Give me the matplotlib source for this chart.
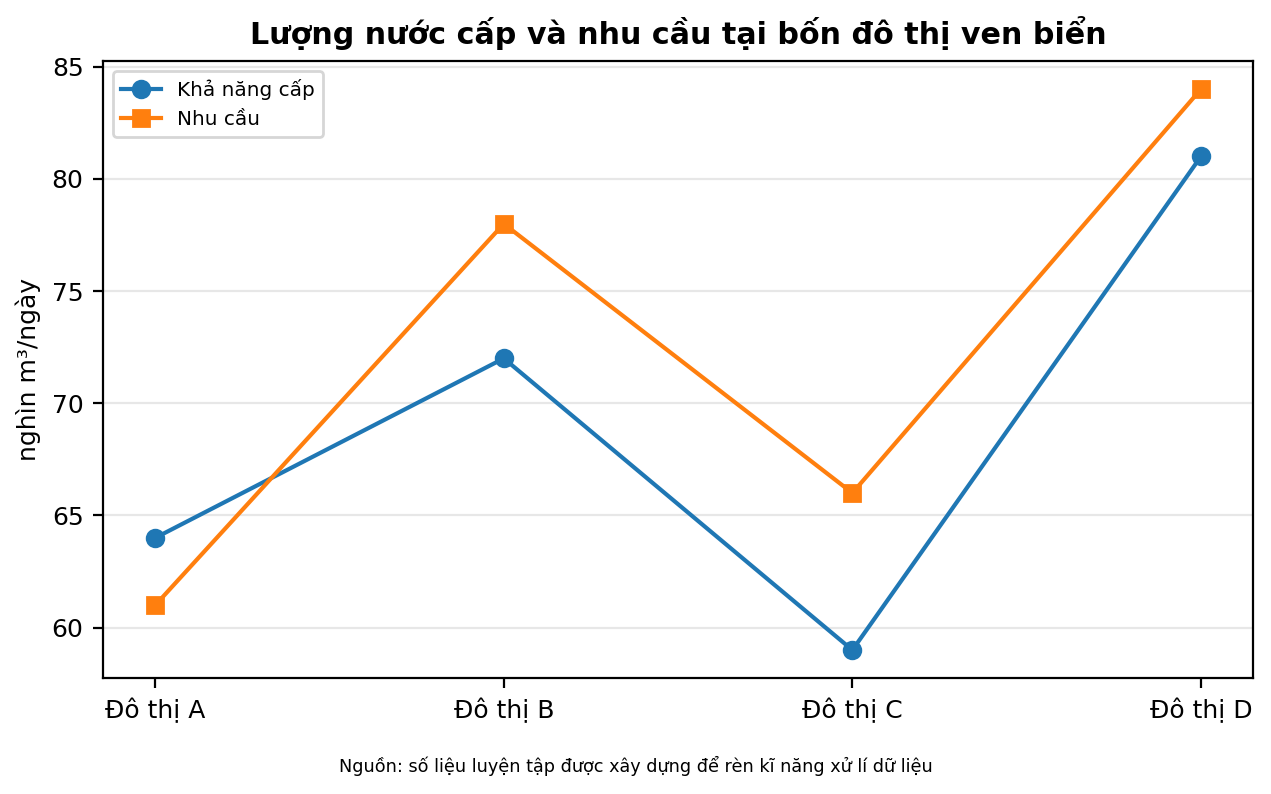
import matplotlib.pyplot as plt

cities = ['Đô thị A', 'Đô thị B', 'Đô thị C', 'Đô thị D']
supply = [64, 72, 59, 81]
demand = [61, 78, 66, 84]

fig, ax = plt.subplots(figsize=(6.355, 3.97), dpi=200)
ax.plot(cities, supply, marker='o', color='#1f77b4', label='Khả năng cấp', markersize=6)
ax.plot(cities, demand, marker='s', color='#ff7f0e', label='Nhu cầu', markersize=6)
ax.set_title('Lượng nước cấp và nhu cầu tại bốn đô thị ven biển', fontweight='bold', fontsize=10.85)
ax.set_ylabel('nghìn m³/ngày', fontsize=9)
ax.tick_params(labelsize=9)
ax.grid(axis='y', alpha=0.3)
ax.legend(loc='upper left', fontsize=7.2)
fig.text(0.5, 0.028, 'Nguồn: số liệu luyện tập được xây dựng để rèn kĩ năng xử lí dữ liệu',
         ha='center', fontsize=6.35)
fig.subplots_adjust(left=0.081, right=0.986, top=0.923, bottom=0.146)
fig.savefig('out.png', dpi=200)
